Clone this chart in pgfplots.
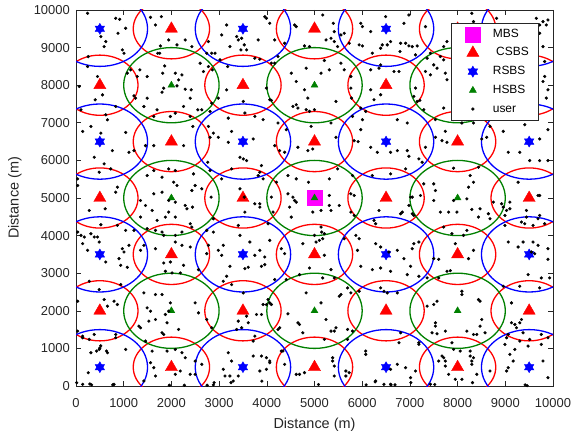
\documentclass[border=0pt]{standalone}
\usepackage{pgfplots}
\pgfplotsset{compat=1.18}
\usepackage{fontspec}
\setmainfont{Liberation Sans}
\definecolor{mgray}{rgb}{0.15,0.15,0.15}
\definecolor{mgreen}{rgb}{0,0.5,0}
\definecolor{mmag}{rgb}{1,0,1}
\definecolor{mred}{rgb}{1,0,0}
\definecolor{mblue}{rgb}{0,0,1}
\pgfdeclareplotmark{hexagram}{%
 \pgfpathmoveto{\pgfqpoint{0pt}{\pgfplotmarksize}}%
 \pgfpathlineto{\pgfqpointpolar{210}{\pgfplotmarksize}}%
 \pgfpathlineto{\pgfqpointpolar{-30}{\pgfplotmarksize}}%
 \pgfpathclose
 \pgfpathmoveto{\pgfqpoint{0pt}{-\pgfplotmarksize}}%
 \pgfpathlineto{\pgfqpointpolar{30}{\pgfplotmarksize}}%
 \pgfpathlineto{\pgfqpointpolar{150}{\pgfplotmarksize}}%
 \pgfpathclose
 \pgfusepathqfillstroke}
\begin{document}
\begin{tikzpicture}
\useasboundingbox (-76bp,-49bp) rectangle (496bp,386bp);
\begin{axis}[
 at={(0,0)}, anchor=south west,
 scale only axis, width=477bp, height=376bp,
 xmin=0, xmax=10000, ymin=0, ymax=10000,
 xtick={0,1000,...,10000}, ytick={0,1000,...,10000},
 scaled ticks=false,
 tick align=inside, major tick length=5bp,
 axis line style={mgray, line width=0.6bp},
 every tick/.style={mgray, line width=0.6bp},
 /pgf/number format/assume math mode=true,
 /pgf/number format/1000 sep={},
 ticklabel style={font=\fontsize{13}{15}\selectfont, text=mgray, inner sep=0pt},
 xticklabel style={anchor=center, yshift=-17bp},
 yticklabel style={anchor=east, xshift=-6bp},
 xlabel={Distance (m)}, ylabel={Distance (m)},
 label style={font=\fontsize{14.5}{16}\selectfont, text=mgray},
 xlabel style={at={(axis description cs:0.5,-0.1037)}, anchor=center},
 ylabel style={at={(axis description cs:-0.1279,0.5)}, anchor=center},
 legend cell align=left,
 legend image code/.code={\path[draw=none,fill=none] (0bp,0bp) -- (38bp,0bp); \path[#1,draw=none] plot[mark options={draw=.}] coordinates {(20bp,0bp)};},
 legend style={at={(0.9706,0.9654)}, anchor=north east, draw=mgray, line width=0.5bp, fill=white,
   font=\fontsize{12}{14}\selectfont, inner xsep=2bp, inner ysep=3bp, row sep=2.7bp,
   nodes={inner sep=2bp, text height=9bp, text depth=3bp}},
]
\addplot[only marks, mark=square*, mark size=7.5bp, color=mmag, mark options={draw=mmag, fill=mmag}] coordinates {(5000,5000)};
\addlegendentry{MBS}
\addplot[only marks, mark=triangle*, mark size=7bp, color=mred, mark options={draw=mred, fill=mred}] coordinates {
(500,2000)(500,5000)(500,8000)(2000,500)(2000,3500)(2000,6500)(2000,9500)
(3500,2000)(3500,5000)(3500,8000)(5000,500)(5000,3500)(5000,6500)(5000,9500)
(6500,2000)(6500,5000)(6500,8000)(8000,500)(8000,3500)(8000,6500)(8000,9500)
(9500,2000)(9500,5000)(9500,8000)};
\addlegendentry{\rule{3.3bp}{0pt}CSBS\rule{6bp}{0pt}}
\addplot[only marks, mark=hexagram, mark size=5.5bp, color=mblue, mark options={draw=mblue, fill=mblue}] coordinates {
(500,500)(500,3500)(500,6500)(500,9500)(3500,500)(3500,3500)(3500,6500)(3500,9500)
(6500,500)(6500,3500)(6500,6500)(6500,9500)(9500,500)(9500,3500)(9500,6500)(9500,9500)};
\addlegendentry{RSBS}
\addplot[only marks, mark=triangle*, mark size=4bp, color=mgreen, mark options={draw=mgreen, fill=mgreen}] coordinates {
(2000,2000)(2000,5000)(2000,8000)(5000,2000)(5000,5000)(5000,8000)(8000,2000)(8000,5000)(8000,8000)};
\addlegendentry{HSBS}
\addplot[only marks, mark=*, mark size=1.4bp, color=black, mark options={draw=black, fill=black}] table {
x y
243 9912
833 9779
916 9752
1041 9514
881 9381
1562 9805
1790 9823
1666 9602
1943 9204
1770 9045
1714 8851
1756 8851
2117 9072
2290 9204
2429 9027
2776 9160
2741 8851
2845 8851
2915 8851
3019 8674
3158 9602
3054 9337
3227 9027
3179 8496
2859 8407
2776 8496
2672 8363
2603 8584
257 8761
243 8496
625 9160
590 9027
521 9292
972 8938
1006 8850
1145 8407
1076 8319
1339 8407
1284 8230
1492 8230
1860 8513
1818 8319
2082 8319
2151 8142
2221 8274
2117 7983
1839 7921
1804 7815
1492 7655
1215 7717
1249 7655
2290 7894
2415 7876
2394 7655
2255 7434
2394 7168
2554 7345
2637 7345
2450 6903
2776 6903
2880 6726
3158 7876
2984 7655
2845 7522
2811 7301
3192 7124
3262 6770
69 7965
104 7345
451 8230
402 7611
555 7743
625 7212
659 7080
833 7434
312 6903
521 6726
139 6770
1423 7434
1700 7345
1631 7168
1978 7168
2082 7256
1041 6743
3958 9823
3992 9779
4062 9646
4582 9602
4617 9558
5172 9867
5394 9646
5415 9425
5623 9381
5727 9116
5970 9646
6005 9558
6178 9425
6491 9823
6595 9160
6525 9072
6421 9072
6386 8983
6213 8851
6386 8541
5936 9072
6005 9045
5554 9337
5242 9204
5346 9249
5415 9160
5484 9027
4895 9027
4790 9045
4374 9116
4166 9204
3819 9204
3527 9072
3458 8939
3576 8939
3749 8718
3854 8692
4235 8762
4166 8586
4096 8586
3472 9249
3402 9204
3368 9293
4513 8320
4617 8099
4825 8453
5137 8320
5207 8656
5311 8409
5554 8586
5623 8409
5762 8232
6178 8409
6352 8453
6178 7878
5762 7923
5776 7657
5450 7569
4860 7657
4790 7878
4617 7481
4548 7436
4652 7392
4825 7348
4999 7348
4895 7304
4929 6906
3992 7923
4062 7613
4096 7596
3507 7569
3749 7171
3541 7260
3923 7083
4235 6994
4409 6818
5970 7392
6005 7083
5797 7171
6248 7613
6386 7746
6074 7304
5970 6818
5346 6994
6979 9867
6875 9646
7326 9558
6806 9116
6910 9116
6979 9045
7049 9027
7153 9045
6792 8895
7118 8807
7430 8851
7361 8718
7639 8762
7708 8674
7777 9160
7708 9027
7500 8541
7569 8453
7326 8365
7430 8276
7743 8320
7777 8144
6667 8365
6771 8365
7118 7923
7083 7702
7153 7569
7208 7596
7708 7392
7534 7083
6736 7083
7743 6773
8090 6994
8333 6994
8298 9912
8333 9691
8818 9779
9651 9779
9790 9691
9859 9602
9720 9602
9894 9735
9720 9381
9790 9027
9825 8630
9825 8232
9790 8099
9894 7878
9859 7657
9894 6818
8679 6906
8957 6773
9408 6950
7291 7348
6945 6994
763 6260
1110 6216
1215 6260
382 6083
590 5907
729 5774
486 5686
35 5332
35 5509
868 5288
833 5155
611 4713
278 4669
521 4289
868 4271
1041 4139
35 4094
104 4006
312 4050
174 3962
382 3962
451 3962
486 3829
139 3785
243 3608
972 3652
1006 3564
1110 3741
902 3387
1457 6393
1631 6393
2255 6393
2811 6614
2984 6614
3192 6481
2762 5951
2811 5730
3262 5774
3054 5509
1804 5553
1631 5730
1492 5597
1943 5774
2082 5730
2047 5420
2117 5332
2464 5641
2429 5199
2498 5332
2637 5244
1804 5155
1631 5111
1353 4934
1457 4802
1943 4934
2082 4890
2290 4802
2325 4713
2443 4757
1943 4625
1596 4669
1353 4492
1700 4404
1874 4492
2082 4492
2394 4315
2429 4227
1492 4183
1215 4139
1666 4139
1804 4094
1839 4006
2082 4006
2221 4094
2832 5023
2880 4448
2880 4094
2741 4139
2776 3741
2741 3520
3088 3741
2984 3608
3054 3476
1666 3652
1353 3608
1423 3741
2082 3829
2221 3741
2394 3697
3715 6570
4166 6393
4270 6260
4374 6216
4652 6349
4860 6260
4964 6304
5450 6614
5832 6525
5915 6499
6178 6349
6317 6216
6595 6216
3437 6083
3507 6039
3576 5995
3888 5862
3854 5686
3819 5597
3923 5509
4443 5597
4617 5509
4201 5420
4874 5420
5311 5509
5484 5774
5797 5597
6213 5597
6595 5641
3437 5244
3527 5023
4096 5023
4443 5111
4548 5023
4582 4934
4617 4890
4478 4757
5311 5067
5311 4802
5519 4802
5762 5111
5832 5067
3749 4846
3854 4757
3854 4846
3541 4625
4131 4625
4513 4492
4964 4625
5137 4669
5346 4669
5762 4625
5832 4536
6352 4669
6248 4404
6282 4315
3402 4271
4027 4315
5137 4227
5151 4094
5207 4050
4999 4006
5033 3829
5103 3873
5172 3918
3437 4006
3645 3829
4062 3873
3854 3608
4305 3652
4374 3520
3958 3431
3749 3476
4756 3785
5207 3476
5623 3918
5866 4006
5936 3918
6282 3785
6386 3697
5901 3608
6560 3564
7535 6614
7673 6525
7777 6481
8506 6570
9720 6570
6736 6260
6945 6260
6979 6110
7188 6039
7257 5951
6910 5774
7326 6349
7916 5792
8263 5597
8333 5420
8229 5288
8437 5818
8610 6614
9061 6216
9304 6216
9512 5995
9720 5995
9894 5995
9269 5420
7291 5376
7500 5376
7535 5199
7222 5067
7014 5023
7049 5023
6979 4802
7500 4934
7916 4934
8194 4978
7812 4625
7639 4625
7986 4625
8298 4696
8471 4713
8437 4492
8645 4581
8749 4890
8923 4846
8957 4757
9027 4669
9096 4890
8992 4536
9096 4713
8680 4448
6840 4625
6806 4581
7049 4581
7083 4536
9686 5067
9720 5067
9443 4669
9443 4492
9720 4536
9686 4448
9339 4360
9825 4315
9582 4271
9408 4315
8992 4271
9061 3829
9269 3697
9373 3829
9582 3829
9686 3741
9894 3652
9547 3564
9616 3520
9894 3370
7083 3785
7188 3829
7049 3652
6736 3608
6875 3387
7708 4227
7881 4050
7951 3785
8124 4006
8194 4139
8333 3608
8229 3387
7500 3387
7604 3370
625 3298
937 3210
1076 3157
1839 3272
1978 3298
2255 3210
1874 3051
2013 3007
2186 3007
2568 3095
3227 3183
3158 2918
3088 2786
3262 2697
278 2786
486 2565
937 2697
590 2299
659 2123
798 2255
868 2167
1423 2476
1666 2432
1804 2432
1978 2211
1943 1990
1492 2078
1562 1990
1874 1902
1666 1769
1527 1725
1319 1592
1353 1548
1909 1681
1804 1415
1839 1371
2151 1504
2498 2211
2568 1946
2741 1769
2845 1548
35 2255
35 1460
382 1371
139 1327
139 1283
278 1239
833 1371
833 1283
486 973
312 885
659 885
1041 973
1457 1194
1596 929
1909 929
2082 973
2221 885
2290 752
2498 664
2637 576
2394 310
2498 310
2082 310
2186 399
1562 620
1631 487
1666 266
1423 134
3192 885
3262 664
3088 443
3123 266
3227 266
3296 134
2880 30
139 45
798 45
14 88
291 53
257 353
431 928
500 1010
520 1070
640 930
3541 3122
3611 3157
3888 3183
3958 3228
4895 3139
5346 3095
5970 3183
6386 3139
6213 3095
6595 3051
4166 2830
4409 2830
4686 2962
5172 2874
5415 2874
5693 2609
5762 2476
5936 2520
6386 2609
6456 2520
6525 2476
3507 2476
4825 2476
5137 2211
5554 2432
5519 2388
4027 2299
4062 2211
4096 2167
3923 2167
3992 2167
3888 1902
3784 1902
4443 1919
4652 1681
4686 1636
3576 1857
3611 1681
3402 1725
3472 1548
3368 1504
4270 1548
4235 1504
4756 1415
5242 1769
5450 1548
5415 1460
5346 1460
5693 1504
5797 1460
5693 1239
5207 1239
3749 1327
3715 1194
4305 929
4339 929
3715 797
3888 797
3992 752
4062 664
4062 620
3854 399
3992 443
4374 576
4617 310
4686 310
4790 355
5380 752
5380 664
5415 531
5415 266
5658 399
5727 355
5658 266
6074 929
6074 841
6282 134
6456 45
6595 45
3402 266
6595 443
7014 3183
6945 2962
7188 2918
7361 2874
7604 2874
7777 3051
7847 3068
8090 2520
8090 2432
8437 2299
8471 2255
8957 2653
9304 2653
9478 2962
9755 2874
9929 2874
9720 2609
6736 2476
7361 2123
7500 2167
7569 2255
7535 1681
7535 1592
7465 1415
7569 1389
7743 1460
8194 1460
8333 1371
8402 1371
8471 1592
8506 1769
8576 1415
9130 2211
9130 1681
9200 1636
9304 1681
9339 1769
9235 1548
9061 1371
9027 1283
9373 1415
9512 1239
9304 1194
9755 1371
9894 1283
6806 1415
6771 1150
7188 1150
7188 1106
7881 1150
7916 973
8055 929
8263 929
8263 797
8333 752
8298 664
7673 797
7708 752
7604 664
7743 664
7743 531
7812 310
7951 178
8090 178
8402 310
8298 576
8680 399
8992 1106
9200 973
9096 841
9165 664
9027 399
9061 487
9478 1062
9755 1106
9790 664
9894 222
6736 576
6910 487
7118 399
7014 222
7430 45
327 30
771 30
1958 20
2271 20
2750 20
2896 90
3250 90
3896 130
5083 40
6083 30
6271 110
6604 30
6687 30
7020 90
7520 40
8312 90
9416 30
9458 10
};
\addlegendentry{user}
% circles
\begin{scope}[mred, line width=1.3bp]
\draw (axis cs:500,2000) ellipse [x radius=800, y radius=800];
\draw (axis cs:500,5000) ellipse [x radius=800, y radius=800];
\draw (axis cs:500,8000) ellipse [x radius=800, y radius=800];
\draw (axis cs:2000,500) ellipse [x radius=800, y radius=800];
\draw (axis cs:2000,3500) ellipse [x radius=800, y radius=800];
\draw (axis cs:2000,6500) ellipse [x radius=800, y radius=800];
\draw (axis cs:2000,9500) ellipse [x radius=800, y radius=800];
\draw (axis cs:3500,2000) ellipse [x radius=800, y radius=800];
\draw (axis cs:3500,5000) ellipse [x radius=800, y radius=800];
\draw (axis cs:3500,8000) ellipse [x radius=800, y radius=800];
\draw (axis cs:5000,500) ellipse [x radius=800, y radius=800];
\draw (axis cs:5000,3500) ellipse [x radius=800, y radius=800];
\draw (axis cs:5000,6500) ellipse [x radius=800, y radius=800];
\draw (axis cs:5000,9500) ellipse [x radius=800, y radius=800];
\draw (axis cs:6500,2000) ellipse [x radius=800, y radius=800];
\draw (axis cs:6500,5000) ellipse [x radius=800, y radius=800];
\draw (axis cs:6500,8000) ellipse [x radius=800, y radius=800];
\draw (axis cs:8000,500) ellipse [x radius=800, y radius=800];
\draw (axis cs:8000,3500) ellipse [x radius=800, y radius=800];
\draw (axis cs:8000,6500) ellipse [x radius=800, y radius=800];
\draw (axis cs:8000,9500) ellipse [x radius=800, y radius=800];
\draw (axis cs:9500,2000) ellipse [x radius=800, y radius=800];
\draw (axis cs:9500,5000) ellipse [x radius=800, y radius=800];
\draw (axis cs:9500,8000) ellipse [x radius=800, y radius=800];
\end{scope}
\begin{scope}[mblue, line width=1.3bp]
\draw (axis cs:500,500) ellipse [x radius=1000, y radius=1000];
\draw (axis cs:500,3500) ellipse [x radius=1000, y radius=1000];
\draw (axis cs:500,6500) ellipse [x radius=1000, y radius=1000];
\draw (axis cs:500,9500) ellipse [x radius=1000, y radius=1000];
\draw (axis cs:3500,500) ellipse [x radius=1000, y radius=1000];
\draw (axis cs:3500,3500) ellipse [x radius=1000, y radius=1000];
\draw (axis cs:3500,6500) ellipse [x radius=1000, y radius=1000];
\draw (axis cs:3500,9500) ellipse [x radius=1000, y radius=1000];
\draw (axis cs:6500,500) ellipse [x radius=1000, y radius=1000];
\draw (axis cs:6500,3500) ellipse [x radius=1000, y radius=1000];
\draw (axis cs:6500,6500) ellipse [x radius=1000, y radius=1000];
\draw (axis cs:6500,9500) ellipse [x radius=1000, y radius=1000];
\draw (axis cs:9500,500) ellipse [x radius=1000, y radius=1000];
\draw (axis cs:9500,3500) ellipse [x radius=1000, y radius=1000];
\draw (axis cs:9500,6500) ellipse [x radius=1000, y radius=1000];
\draw (axis cs:9500,9500) ellipse [x radius=1000, y radius=1000];
\end{scope}
\begin{scope}[mgreen, line width=1.3bp]
\draw (axis cs:2000,2000) ellipse [x radius=1000, y radius=1000];
\draw (axis cs:2000,5000) ellipse [x radius=1000, y radius=1000];
\draw (axis cs:2000,8000) ellipse [x radius=1000, y radius=1000];
\draw (axis cs:5000,2000) ellipse [x radius=1000, y radius=1000];
\draw (axis cs:5000,5000) ellipse [x radius=1000, y radius=1000];
\draw (axis cs:5000,8000) ellipse [x radius=1000, y radius=1000];
\draw (axis cs:8000,2000) ellipse [x radius=1000, y radius=1000];
\draw (axis cs:8000,5000) ellipse [x radius=1000, y radius=1000];
\draw (axis cs:8000,8000) ellipse [x radius=1000, y radius=1000];
\end{scope}
\end{axis}
\end{tikzpicture}
\end{document}
